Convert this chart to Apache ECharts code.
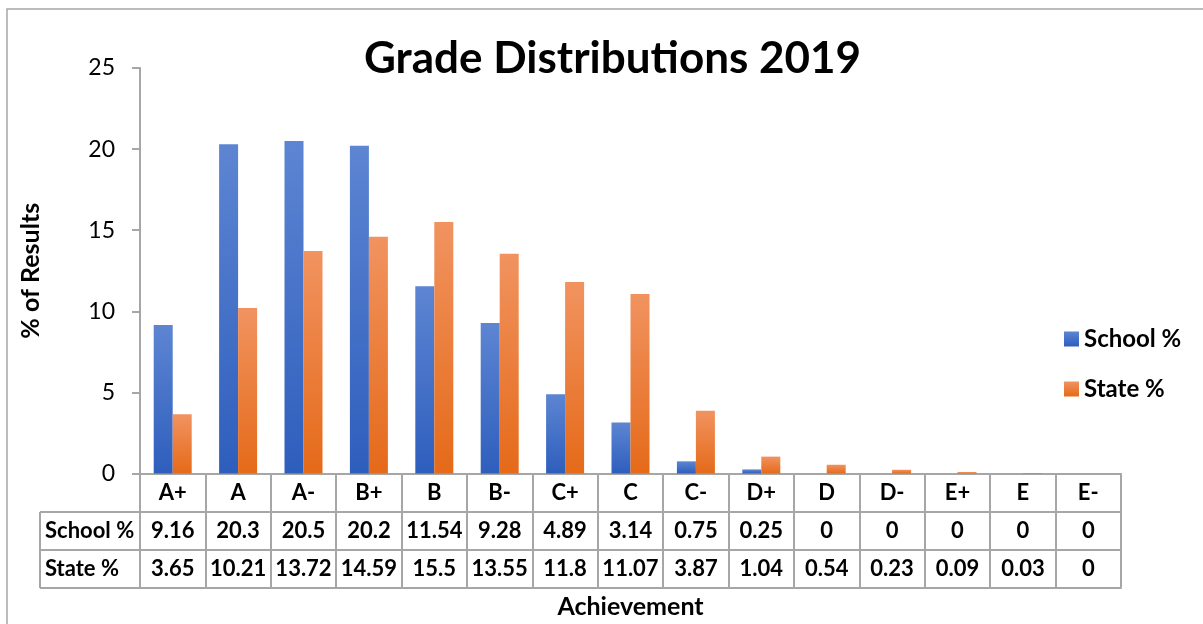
<!DOCTYPE html>
<html>
<head>
<meta charset="utf-8">
<script src="https://cdn.jsdelivr.net/npm/echarts@6/dist/echarts.min.js"></script>
<style>
html,body{margin:0;padding:0;background:#fff;}
#chart{width:1203px;height:624px;}
</style>
</head>
<body>
<div id="chart"></div>
<script>
const categories = ['A+','A','A-','B+','B','B-','C+','C','C-','D+','D','D-','E+','E','E-'];
const schoolPct = [9.16, 20.3, 20.5, 20.2, 11.54, 9.28, 4.89, 3.14, 0.75, 0.25, 0, 0, 0, 0, 0];
const statePct = [3.65, 10.21, 13.72, 14.59, 15.5, 13.55, 11.8, 11.07, 3.87, 1.04, 0.54, 0.23, 0.09, 0.03, 0];
const seriesNames = ['School %', 'State %'];
const yTicks = {min: 0, max: 25, interval: 5};

const FONT = 'Lato';
const LINE = '#a6a6a6';
const GRID_LEFT = 140, GRID_RIGHT_X = 1121, GRID_TOP = 68, GRID_BOTTOM_Y = 474;
const ROW_H = 38, TABLE_LEFT = 40;

const chart = echarts.init(document.getElementById('chart'));

function grad(top, bottom) {
  return new echarts.graphic.LinearGradient(0, 0, 0, 1, [
    {offset: 0, color: top}, {offset: 1, color: bottom}
  ]);
}

const cellLabel = {fontSize: 22, fontWeight: 'bold', color: '#000', fontFamily: FONT,
  margin: ROW_H / 2, verticalAlign: 'middle', interval: 0};
const axisLineStyle = {lineStyle: {color: LINE, width: 2}};

const graphics = [
  {type: 'rect', z: -10, shape: {x: 7, y: 9, width: 1400, height: 800},
   style: {fill: 'none', stroke: LINE, lineWidth: 1.5}}
];
for (let r = 1; r <= 3; r++) {
  const y = GRID_BOTTOM_Y + r * ROW_H;
  graphics.push({type: 'line', shape: {x1: TABLE_LEFT, y1: y, x2: GRID_LEFT, y2: y},
    style: {stroke: LINE, lineWidth: 2}});
}
graphics.push({type: 'line', shape: {x1: TABLE_LEFT, y1: GRID_BOTTOM_Y + ROW_H, x2: TABLE_LEFT, y2: GRID_BOTTOM_Y + 3 * ROW_H},
  style: {stroke: LINE, lineWidth: 2}});
seriesNames.forEach((n, i) => {
  graphics.push({type: 'text', x: TABLE_LEFT + 5, y: GRID_BOTTOM_Y + ROW_H * (i + 1.5),
    style: {text: n, fontSize: 22, fontWeight: 'bold', fill: '#000', fontFamily: FONT, verticalAlign: 'middle', align: 'left'}});
});

const option = {
  animation: false,
  textStyle: {fontFamily: FONT},
  title: {
    text: 'Grade Distributions 2019', left: 359, top: 32,
    textStyle: {fontSize: 44, fontWeight: 'bold', color: '#000', fontFamily: FONT}
  },
  legend: {
    orient: 'vertical', left: 1059, top: 321, itemWidth: 15, itemHeight: 15, itemGap: 24,
    icon: 'rect', data: seriesNames,
    textStyle: {fontSize: 24, fontWeight: 'bold', color: '#000', lineHeight: 26, fontFamily: FONT}
  },
  grid: {left: GRID_LEFT, right: 1203 - GRID_RIGHT_X, top: GRID_TOP, bottom: 624 - GRID_BOTTOM_Y},
  xAxis: [
    {type: 'category', data: categories, position: 'bottom',
     axisLine: axisLineStyle,
     axisTick: {show: true, interval: 0, length: ROW_H * 3, lineStyle: {color: LINE, width: 2}},
     axisLabel: cellLabel},
    {type: 'category', data: categories, position: 'bottom', offset: ROW_H,
     axisLine: axisLineStyle, axisTick: {show: false},
     axisLabel: Object.assign({}, cellLabel, {formatter: (v, i) => String(schoolPct[i])})},
    {type: 'category', data: categories, position: 'bottom', offset: ROW_H * 2,
     axisLine: axisLineStyle, axisTick: {show: false},
     axisLabel: Object.assign({}, cellLabel, {formatter: (v, i) => String(statePct[i])})},
    {type: 'category', data: categories, position: 'bottom', offset: ROW_H * 3,
     axisLine: axisLineStyle,
     axisTick: {show: true, inside: true, interval: 0, length: ROW_H * 3, lineStyle: {color: LINE, width: 2}},
     axisLabel: {show: false},
     name: 'Achievement', nameLocation: 'middle', nameGap: 19,
     nameTextStyle: {fontSize: 25, fontWeight: 'bold', color: '#000', verticalAlign: 'middle', fontFamily: FONT}}
  ],
  yAxis: {
    type: 'value', min: yTicks.min, max: yTicks.max, interval: yTicks.interval,
    name: '% of Results', nameLocation: 'middle', nameGap: 97, nameRotate: 90,
    nameTextStyle: {fontSize: 25, fontWeight: 'bold', color: '#000', fontFamily: FONT},
    axisLine: {show: true, lineStyle: {color: LINE, width: 2}},
    axisTick: {show: true, length: 8, lineStyle: {color: LINE, width: 2}},
    splitLine: {show: false},
    axisLabel: {fontSize: 23, color: '#000', margin: 25, fontFamily: FONT}
  },
  series: [
    {name: seriesNames[0], type: 'bar', data: schoolPct, barWidth: 19, barGap: '0%',
     itemStyle: {color: grad('#5d85d2', '#2e5ebd')}},
    {name: seriesNames[1], type: 'bar', data: statePct, barWidth: 19, barGap: '0%',
     itemStyle: {color: grad('#f19360', '#e56a19')}}
  ],
  graphic: graphics
};
chart.setOption(option);
</script>
</body>
</html>
